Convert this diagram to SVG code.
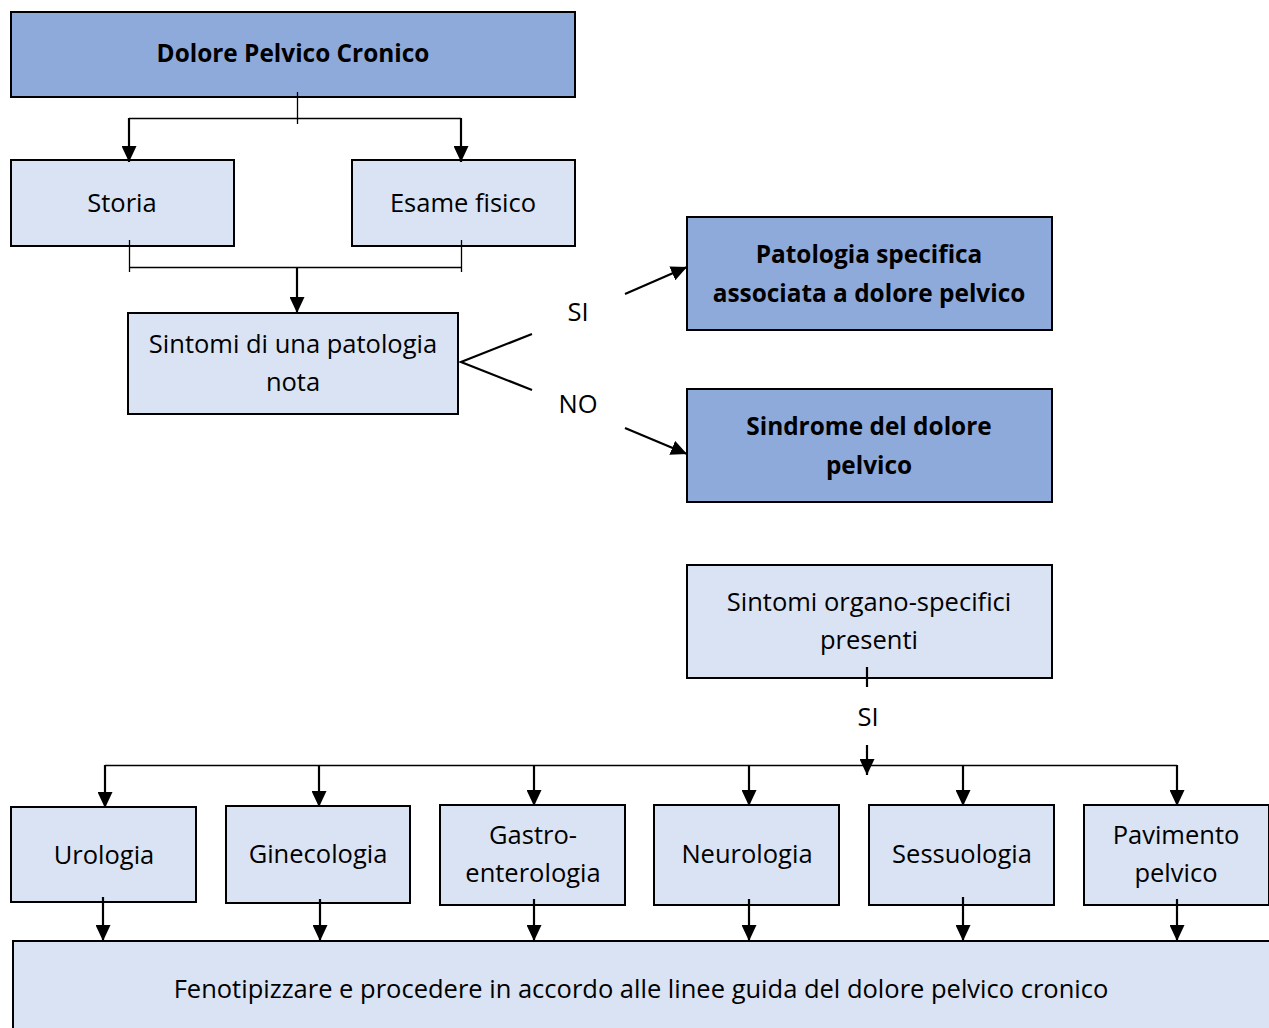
<svg xmlns="http://www.w3.org/2000/svg" width="1269" height="1028" viewBox="0 0 1269 1028">
<style>
.box{stroke:#000;stroke-width:2}
.dark{fill:#8eaadb}
.light{fill:#dae3f3}
text{font-family:"Open Sans","Liberation Sans",sans-serif;font-size:25.5px;fill:#000;text-anchor:middle;font-variant-ligatures:none}
.b{font-weight:bold;font-size:24.4px}
.ln{stroke:#000;stroke-width:2.2;fill:none}
.thin{stroke:#000;stroke-width:1.3;fill:none}
</style>
<defs>
<marker id="ah" viewBox="0 0 16 15" refX="16" refY="7.5" markerWidth="16" markerHeight="15" markerUnits="userSpaceOnUse" orient="auto">
<path d="M0,0 L16,7.5 L0,15 Z" fill="#000"/>
</marker>
</defs>
<g id="n-dolore"><rect class="box dark" x="11" y="12" width="564" height="85"/><text class="b" x="293" y="62">Dolore Pelvico Cronico</text></g>
<g id="n-storia"><rect class="box light" x="11" y="160" width="223" height="86"/><text x="122" y="212">Storia</text></g>
<g id="n-esame"><rect class="box light" x="352" y="160" width="223" height="86"/><text x="463" y="212">Esame fisico</text></g>
<g id="n-sintomi"><rect class="box light" x="128" y="313" width="330" height="101"/><text x="293" y="353">Sintomi di una patologia</text><text x="293" y="391">nota</text></g>
<g id="n-patologia"><rect class="box dark" x="687" y="217" width="365" height="113"/><text class="b" x="869" y="263">Patologia specifica</text><text class="b" x="869" y="302">associata a dolore pelvico</text></g>
<g id="n-sindrome"><rect class="box dark" x="687" y="389" width="365" height="113"/><text class="b" x="869" y="435">Sindrome del dolore</text><text class="b" x="869" y="474">pelvico</text></g>
<g id="n-organo"><rect class="box light" x="687" y="565" width="365" height="113"/><text x="869" y="611">Sintomi organo-specifici</text><text x="869" y="649">presenti</text></g>
<g id="n-urologia"><rect class="box light" x="11" y="807" width="185" height="95"/><text x="104" y="864">Urologia</text></g>
<g id="n-ginecologia"><rect class="box light" x="226" y="806" width="184" height="97"/><text x="318" y="863">Ginecologia</text></g>
<g id="n-gastro"><rect class="box light" x="440" y="805" width="185" height="100"/><text x="533" y="844">Gastro-</text><text x="533" y="882">enterologia</text></g>
<g id="n-neurologia"><rect class="box light" x="654" y="805" width="185" height="100"/><text x="747" y="863">Neurologia</text></g>
<g id="n-sessuologia"><rect class="box light" x="869" y="805" width="185" height="100"/><text x="962" y="863">Sessuologia</text></g>
<g id="n-pavimento"><rect class="box light" x="1084" y="805" width="185" height="100"/><text x="1176" y="844">Pavimento</text><text x="1176" y="882">pelvico</text></g>
<g id="n-fenotipizzare"><rect class="box light" x="13" y="941" width="1258" height="100"/><text x="641" y="998">Fenotipizzare e procedere in accordo alle linee guida del dolore pelvico cronico</text></g>
<g id="connectors">
<line class="thin" x1="297.5" y1="92" x2="297.5" y2="124"/>
<line class="thin" x1="129" y1="118.5" x2="461" y2="118.5"/>
<line class="ln" x1="129" y1="118" x2="129" y2="162" marker-end="url(#ah)"/>
<line class="ln" x1="461" y1="118" x2="461" y2="162" marker-end="url(#ah)"/>
<line class="thin" x1="129.5" y1="240" x2="129.5" y2="272"/>
<line class="thin" x1="461.5" y1="240" x2="461.5" y2="272"/>
<line class="thin" x1="129" y1="267.5" x2="461" y2="267.5"/>
<line class="ln" x1="297" y1="267" x2="297" y2="313" marker-end="url(#ah)"/>
<polyline class="ln" points="532,334 461,362 532,390"/>
<text x="578" y="321">SI</text>
<text x="578" y="413">NO</text>
<line class="ln" x1="625" y1="294" x2="687" y2="267" marker-end="url(#ah)"/>
<line class="ln" x1="625" y1="428" x2="687" y2="454" marker-end="url(#ah)"/>
<line class="ln" x1="867" y1="667" x2="867" y2="687"/>
<text x="868" y="726">SI</text>
<line class="ln" x1="867" y1="745" x2="867" y2="775" marker-end="url(#ah)"/>
<line class="thin" x1="105" y1="765.5" x2="1177" y2="765.5"/>
<line class="ln" x1="105" y1="765" x2="105" y2="808" marker-end="url(#ah)"/>
<line class="ln" x1="319" y1="765" x2="319" y2="807" marker-end="url(#ah)"/>
<line class="ln" x1="534" y1="765" x2="534" y2="806" marker-end="url(#ah)"/>
<line class="ln" x1="749" y1="765" x2="749" y2="806" marker-end="url(#ah)"/>
<line class="ln" x1="963" y1="765" x2="963" y2="806" marker-end="url(#ah)"/>
<line class="ln" x1="1177" y1="765" x2="1177" y2="806" marker-end="url(#ah)"/>
<line class="ln" x1="103" y1="897" x2="103" y2="941" marker-end="url(#ah)"/>
<line class="ln" x1="320" y1="899" x2="320" y2="941" marker-end="url(#ah)"/>
<line class="ln" x1="534" y1="899" x2="534" y2="941" marker-end="url(#ah)"/>
<line class="ln" x1="749" y1="899" x2="749" y2="941" marker-end="url(#ah)"/>
<line class="ln" x1="963" y1="897" x2="963" y2="941" marker-end="url(#ah)"/>
<line class="ln" x1="1177" y1="899" x2="1177" y2="941" marker-end="url(#ah)"/>
</g>
</svg>
